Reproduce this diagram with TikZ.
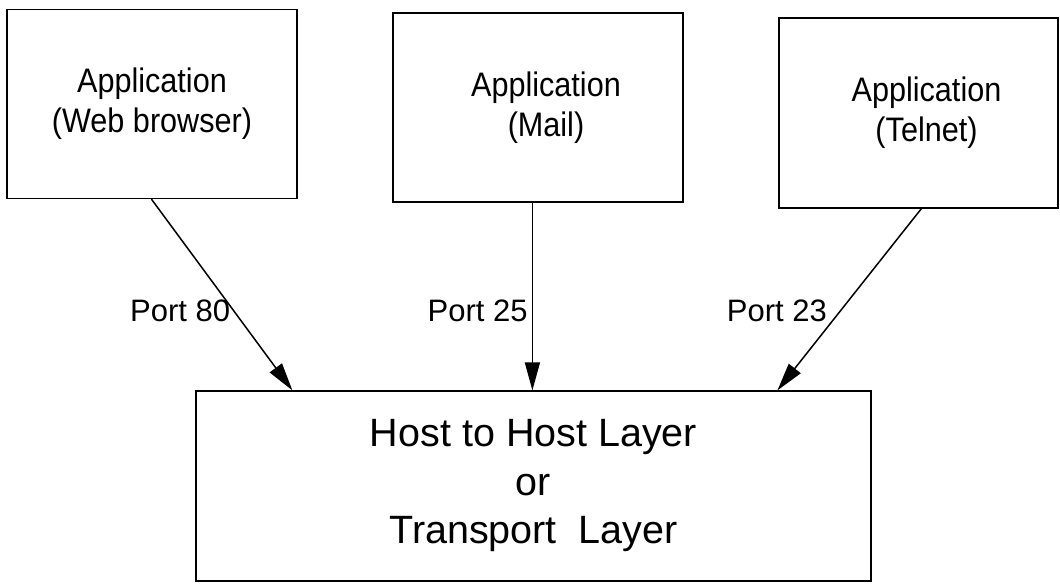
\documentclass[tikz,border=0pt]{standalone}
\usepackage{fontspec}
\setmainfont{Liberation Sans}
\newfontfamily\appfont[FakeStretch=0.9]{Liberation Sans}
\usetikzlibrary{arrows.meta,calc}
\tikzset{
  appbox/.style={draw=black, line width=1.2pt, minimum width=290pt, minimum height=189pt,
    align=center, inner sep=0pt, font=\appfont\fontsize{34}{40}\selectfont},
  hostbox/.style={draw=black, line width=1.2pt, minimum width=675pt, minimum height=190pt,
    align=center, inner sep=0pt, font=\fontsize{39.5}{48.5}\selectfont},
  conn/.style={line width=1.5pt, -{Triangle[length=28pt,width=15pt]}},
  portlbl/.style={font=\fontsize{31}{36}\selectfont, anchor=base east, inner sep=0pt}
}
\begin{document}
\begin{tikzpicture}[x=1pt,y=-1pt]
\useasboundingbox (0,0) rectangle (1060,586);
\node[appbox] (a1) at (152,104) {Application\\(Web browser)};
\node[appbox] (a2) at (538,107.5) {\hspace*{16pt}Application\\\hspace*{16pt}(Mail)};
\node[appbox, minimum width=279pt, minimum height=190pt] (a3) at (918.5,113) {\hspace*{16pt}Application\\\hspace*{16pt}(Telnet)};
\node[hostbox] (h) at (533.5,486) {Host to Host Layer\\or\\Transport\ \ Layer};
\coordinate (s1) at ($(a1.south west)+(145,0)$);
\coordinate (s2) at ($(a2.south west)+(140,0)$);
\coordinate (s3) at ($(a3.south west)+(143,0)$);
\coordinate (e1) at ($(h.north west)+(97,0)$);
\coordinate (e2) at ($(h.north west)+(337,0)$);
\coordinate (e3) at ($(h.north west)+(582,0)$);
\draw[conn] (s1) -- (e1) node[portlbl, pos=0.642, xshift=-11pt] {Port 80};
\draw[conn] (s2) -- (e2) node[portlbl, pos=0.635, xshift=-4pt] {Port 25};
\draw[conn] (s3) -- (e3) node[portlbl, pos=0.623, xshift=-4pt] {Port 23};
\end{tikzpicture}
\end{document}
